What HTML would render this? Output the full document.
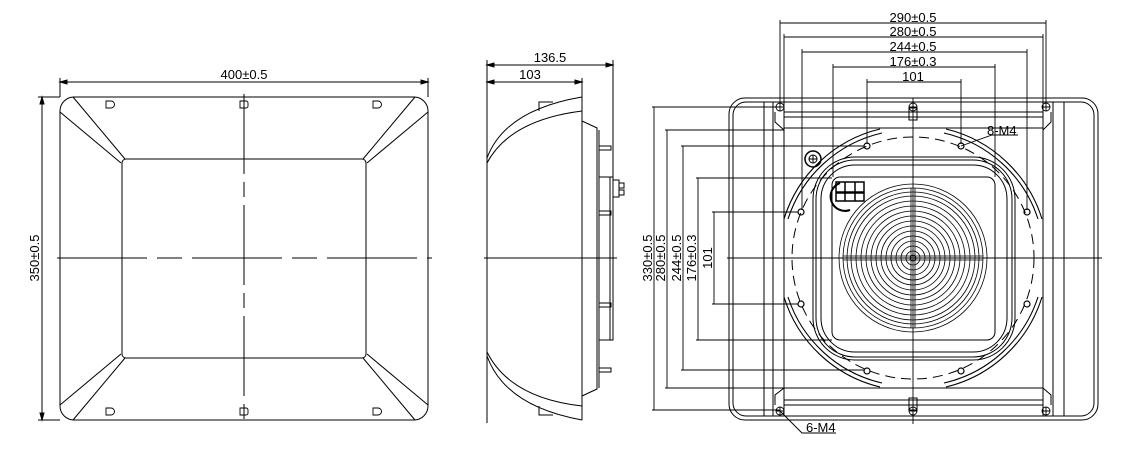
<!DOCTYPE html>
<html><head><meta charset="utf-8"><style>
html,body{margin:0;padding:0;background:#fff;}
svg{display:block;}
text{font-family:"Liberation Sans",sans-serif;font-size:13px;fill:#000;}
</style></head><body>
<svg width="1129" height="454" viewBox="0 0 1129 454" xmlns="http://www.w3.org/2000/svg" fill="none" stroke="#000" stroke-width="1">
<!-- FRONT VIEW -->
<rect x="60" y="97" width="368" height="323" rx="14"/>
<rect x="122" y="159" width="244" height="199" rx="4"/>
<path d="M73 97 L125 159 M60 112 L121 163"/>
<path d="M415 97 L363 159 M428 112 L367 163"/>
<path d="M73 420 L125 358 M60 405 L121 354"/>
<path d="M415 420 L363 358 M428 405 L367 354"/>
<g stroke-width="0.9">
<path d="M106 101 h5 a3 3 0 0 1 0 7 h-5 z"/><path d="M240 101 h6 a2 2 0 0 1 2 2 v3 a2 2 0 0 1 -2 2 h-6 z"/><path d="M373 101 h5 a3 3 0 0 1 0 7 h-5 z"/>
<path d="M106 408 h5 a3 3 0 0 1 0 7 h-5 z"/><path d="M240 408 h6 a2 2 0 0 1 2 2 v3 a2 2 0 0 1 -2 2 h-6 z"/><path d="M373 408 h5 a3 3 0 0 1 0 7 h-5 z"/>
</g>
<path d="M57 258 H432" stroke-dasharray="90,10,25,10"/>
<path d="M244 94 V424" stroke-dasharray="80,8,15,8"/>
<path d="M60 78 V97 M428 78 V97 M60 82 H428"/>
<path d="M38 97 H60 M38 420 H60 M42 97 V420"/>
<path d="M60 82 l7 -2 v4z M428 82 l-7 -2 v4z M42 97 l-2 7 h4z M42 420 l-2 -7 h4z" fill="#000"/>
<text x="244" y="79" text-anchor="middle" stroke="none">400±0.5</text>
<text x="0" y="0" transform="translate(39,258) rotate(-90)" text-anchor="middle" stroke="none">350±0.5</text>

<!-- SIDE VIEW -->
<path d="M487 60 V423"/>
<path d="M487 65 H613 M613 60 V180 M487 82 H582 M582 78 V97"/>
<path d="M487 65 l7 -2 v4z M613 65 l-7 -2 v4z M487 82 l7 -2 v4z M582 82 l-7 -2 v4z" fill="#000"/>
<text x="550" y="62" text-anchor="middle" stroke="none">136.5</text>
<text x="530" y="79" text-anchor="middle" stroke="none">103</text>
<path d="M487 158 Q505 110 582 97 M487 163 Q510 120 582 111"/>
<path d="M487 356 Q505 406 582 420 M487 352 Q510 398 582 406"/>
<path d="M582 97 V420"/>
<path d="M539 111 V102 H553 M539 406 V415 H553"/>
<path d="M582 121 L597 128 V389 L582 396"/>
<path d="M599 130 V388"/>
<path d="M610 177 H613 V340 H610 Z M599 177 H610 M599 340 H610"/>
<path d="M599 146 h12 v4 h-12 M599 211 h12 v4 h-12 M599 303 h12 v4 h-12 M599 368 h12 v4 h-12"/>
<path d="M613 180 h6 v17 h-6 M619 183 h5 v5 h-5 M619 190 h5 v5 h-5"/>
<path d="M484 258 H617"/>

<!-- BACK VIEW -->
<rect x="729" y="98" width="369" height="322" rx="16"/>
<rect x="733" y="102" width="361" height="314" rx="13"/>
<rect x="764" y="102" width="300" height="314"/>
<path d="M773 102 V416 M784 102 V416 M1043 102 V416 M1053 102 V416"/>
<path d="M784 112 H1043 M784 117 H1043 M784 128 H1043 M784 388 H1043 M784 400 H1043 M784 405 H1043"/>
<path d="M775 112 V122 L784 130 M1051 112 V122 L1043 130 M775 405 V395 L784 388 M1051 405 V395 L1043 388"/>
<rect x="909" y="108" width="8" height="12"/><rect x="909" y="398" width="8" height="12"/>
<g stroke-width="0.9">
<circle cx="780" cy="107" r="4"/><circle cx="913" cy="107" r="4"/><circle cx="1046" cy="107" r="4"/>
<circle cx="780" cy="411" r="4"/><circle cx="913" cy="411" r="4"/><circle cx="1046" cy="411" r="4"/>
<path d="M776 107h8M780 103v8M909 107h8M913 103v8M1042 107h8M1046 103v8M776 411h8M780 407v8M909 411h8M913 407v8M1042 411h8M1046 407v8"/>
</g>
<circle cx="913" cy="258" r="121" stroke-dasharray="10,6"/>
<g stroke-width="1.1">
<path d="M882 133 A129 129 0 0 0 788 219"/><path d="M880 129 A133 133 0 0 0 784 219"/>
<path d="M944 133 A129 129 0 0 1 1038 219"/><path d="M946 129 A133 133 0 0 1 1042 219"/>
<path d="M882 383 A129 129 0 0 1 788 297"/><path d="M880 387 A133 133 0 0 1 784 297"/>
<path d="M944 383 A129 129 0 0 0 1038 297"/><path d="M946 387 A133 133 0 0 0 1042 297"/>
</g>
<rect x="813" y="157" width="202" height="203" rx="42"/>
<rect x="816" y="160" width="196" height="197" rx="39"/>
<rect x="821" y="165" width="186" height="187" rx="34"/>
<rect x="832" y="177" width="163" height="163" rx="8"/>
<g stroke-width="0.8">
<circle cx="913" cy="258" r="74"/><circle cx="913" cy="258" r="70"/><circle cx="913" cy="258" r="66"/><circle cx="913" cy="258" r="62"/><circle cx="913" cy="258" r="57"/><circle cx="913" cy="258" r="52"/><circle cx="913" cy="258" r="47"/><circle cx="913" cy="258" r="42"/><circle cx="913" cy="258" r="37"/><circle cx="913" cy="258" r="32"/><circle cx="913" cy="258" r="27"/><circle cx="913" cy="258" r="22"/><circle cx="913" cy="258" r="17"/><circle cx="913" cy="258" r="12"/><circle cx="913" cy="258" r="7"/><circle cx="913" cy="258" r="3"/>
</g>
<path d="M911 188 V328 M915 188 V328 M843 256 H983 M843 260 H983" stroke-width="0.8"/>
<path d="M727 258 H1102 M913 98 V424" stroke-width="0.9"/>
<circle cx="813" cy="159" r="8" stroke-width="1.5"/><circle cx="813" cy="159" r="4"/><path d="M809 159h8M813 155v8"/>
<path d="M840 183 a12 12 0 0 0 10 27" stroke-width="2"/>
<path d="M836 182 h28 v10 h-28z M836 193 h28 v8 h-28z M845 182 v19 M855 182 v19" stroke-width="1.5"/>
<g stroke-width="1.2">
<circle cx="867" cy="146" r="3"/><circle cx="961" cy="146" r="3"/><circle cx="801" cy="212" r="3"/><circle cx="1027" cy="212" r="3"/>
<circle cx="801" cy="304" r="3"/><circle cx="1027" cy="304" r="3"/><circle cx="867" cy="371" r="3"/><circle cx="961" cy="371" r="3"/>
</g>
<g stroke-width="0.9">
<path d="M780 20 V104 M1046 20 V104 M780 23 H1046"/>
<path d="M784 34 V104 M1043 34 V104 M784 37 H1043"/>
<path d="M802 49 V210 M1027 49 V210 M802 52 H1027"/>
<path d="M833 64 V177 M995 64 V177 M833 67 H995"/>
<path d="M867 79 V144 M961 79 V144 M867 82 H961"/>
<path d="M652 107 H780 M652 410 H780 M654 107 V410"/>
<path d="M665 130 H784 M665 388 H784 M667 130 V388"/>
<path d="M681 146 H864 M681 370 H864 M683 146 V370"/>
<path d="M696 178 H832 M696 340 H832 M698 178 V340"/>
<path d="M712 212 H798 M712 304 H798 M714 212 V304"/>
<path d="M961 146 L992 135 H1018 M780 411 L802 433 H836"/>
</g>
<text x="913" y="22" text-anchor="middle" stroke="none">290±0.5</text>
<text x="913" y="36" text-anchor="middle" stroke="none">280±0.5</text>
<text x="913" y="51" text-anchor="middle" stroke="none">244±0.5</text>
<text x="913" y="66" text-anchor="middle" stroke="none">176±0.3</text>
<text x="913" y="81" text-anchor="middle" stroke="none">101</text>
<text x="987" y="135" stroke="none">8-M4</text>
<text x="806" y="432" stroke="none">6-M4</text>
<text transform="translate(652,258) rotate(-90)" text-anchor="middle" stroke="none">330±0.5</text>
<text transform="translate(665,258) rotate(-90)" text-anchor="middle" stroke="none">280±0.5</text>
<text transform="translate(681,258) rotate(-90)" text-anchor="middle" stroke="none">244±0.5</text>
<text transform="translate(696,258) rotate(-90)" text-anchor="middle" stroke="none">176±0.3</text>
<text transform="translate(712,258) rotate(-90)" text-anchor="middle" stroke="none">101</text>
</svg>
</body></html>
